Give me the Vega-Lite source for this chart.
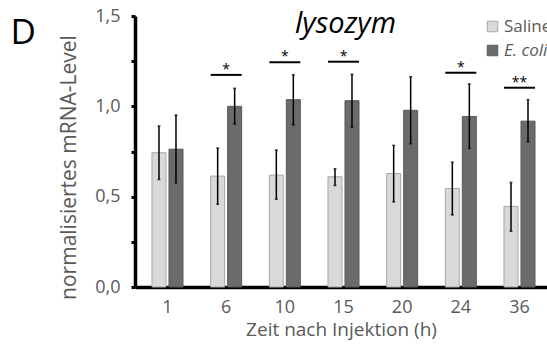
{
  "$schema": "https://vega.github.io/schema/vega-lite/v6.json",
  "autosize": {"type": "none"},
  "padding": {"left": 135, "top": 16, "right": 0, "bottom": 64},
  "width": 412,
  "height": 271,
  "title": {"text": "D", "orient": "left", "anchor": "end", "frame": "group", "angle": 0, "align": "left", "baseline": "top", "offset": 22, "fontSize": 35, "fontWeight": "normal", "font": "Open Sans", "color": "black"},
  "config": {"view": {"stroke": null}, "font": "Open Sans"},
  "datasets": {
    "bars": [
      {"time": "1", "group": "Saline", "mean": 0.743, "lo": 0.595, "hi": 0.891},
      {"time": "1", "group": "E. coli", "mean": 0.763, "lo": 0.576, "hi": 0.952},
      {"time": "6", "group": "Saline", "mean": 0.614, "lo": 0.458, "hi": 0.769},
      {"time": "6", "group": "E. coli", "mean": 1.0, "lo": 0.902, "hi": 1.1},
      {"time": "10", "group": "Saline", "mean": 0.619, "lo": 0.486, "hi": 0.758},
      {"time": "10", "group": "E. coli", "mean": 1.037, "lo": 0.898, "hi": 1.175},
      {"time": "15", "group": "Saline", "mean": 0.61, "lo": 0.562, "hi": 0.654},
      {"time": "15", "group": "E. coli", "mean": 1.031, "lo": 0.884, "hi": 1.177},
      {"time": "20", "group": "Saline", "mean": 0.628, "lo": 0.471, "hi": 0.784},
      {"time": "20", "group": "E. coli", "mean": 0.978, "lo": 0.793, "hi": 1.164},
      {"time": "24", "group": "Saline", "mean": 0.545, "lo": 0.399, "hi": 0.691},
      {"time": "24", "group": "E. coli", "mean": 0.944, "lo": 0.767, "hi": 1.124},
      {"time": "36", "group": "Saline", "mean": 0.446, "lo": 0.309, "hi": 0.579},
      {"time": "36", "group": "E. coli", "mean": 0.918, "lo": 0.804, "hi": 1.037}
    ],
    "sig": [
      {"time": "6", "line": 1.174, "label": "*"},
      {"time": "10", "line": 1.244, "label": "*"},
      {"time": "15", "line": 1.247, "label": "*"},
      {"time": "24", "line": 1.186, "label": "*"},
      {"time": "36", "line": 1.103, "label": "**"}
    ],
    "head": [{"label": "lysozym", "time": "15", "y": 1.406}]
  },
  "encoding": {
    "x": {
      "field": "time", "type": "ordinal", "sort": ["1", "6", "10", "15", "20", "24", "36"],
      "scale": {"paddingInner": 0.4716, "paddingOuter": 0.247, "align": 0.586},
      "axis": {"title": "Zeit nach Injektion (h)", "domainColor": "black", "domainWidth": 3.5, "ticks": false, "labelAngle": 0, "labelFontSize": 18, "labelColor": "#595959", "labelPadding": 11, "titleFontSize": 19, "titleFontWeight": "normal", "titleColor": "#595959", "titlePadding": 4}
    }
  },
  "layer": [
    {
      "data": {"name": "bars"},
      "mark": {"type": "bar", "strokeWidth": 1},
      "encoding": {
        "xOffset": {"field": "group", "type": "nominal", "sort": ["Saline", "E. coli"], "scale": {"paddingInner": 0.176, "paddingOuter": 0}},
        "y": {
          "field": "mean", "type": "quantitative",
          "scale": {"domain": [0, 1.5], "nice": false},
          "axis": {"title": "normalisiertes mRNA-Level", "values": [0, 0.25, 0.5, 0.75, 1, 1.25, 1.5], "labelExpr": "(datum.value * 2) % 1 == 0 ? replace(format(datum.value, '.1f'), '.', ',') : ''", "grid": false, "domainColor": "black", "domainWidth": 3.5, "tickColor": "black", "tickWidth": 3, "tickSize": 4, "labelFontSize": 18, "labelColor": "#595959", "labelPadding": 11, "titleFontSize": 21, "titleFontWeight": "normal", "titleColor": "#595959", "titleX": -60, "titleY": 151, "titleBaseline": "alphabetic", "titleAngle": -90, "titleAlign": "center"}
        },
        "color": {
          "field": "group", "type": "nominal", "sort": ["Saline", "E. coli"],
          "scale": {"domain": ["Saline", "E. coli"], "range": ["#d9d9d9", "#6b6b6b"]},
          "legend": {"title": null, "orient": "none", "legendX": 349, "legendY": 2, "padding": 0, "symbolType": "square", "symbolSize": 110, "symbolStrokeColor": "#a6a6a6", "symbolStrokeWidth": 1, "labelFontSize": 17, "labelColor": "#595959", "labelOffset": 3, "rowPadding": 6, "labelFontStyle": {"expr": "datum.label == 'E. coli' ? 'italic' : 'normal'"}}
        },
        "stroke": {
          "field": "group", "type": "nominal",
          "scale": {"domain": ["Saline", "E. coli"], "range": ["#a6a6a6", "#595959"]},
          "legend": null
        }
      }
    },
    {
      "data": {"name": "bars"},
      "mark": {"type": "rule", "color": "black", "strokeWidth": 1.5},
      "encoding": {
        "xOffset": {"field": "group", "type": "nominal", "sort": ["Saline", "E. coli"]},
        "y": {"field": "lo", "type": "quantitative"},
        "y2": {"field": "hi"}
      }
    },
    {
      "data": {"name": "bars"},
      "mark": {"type": "tick", "color": "black", "size": 3, "thickness": 1.5},
      "encoding": {
        "xOffset": {"field": "group", "type": "nominal", "sort": ["Saline", "E. coli"]},
        "y": {"field": "lo", "type": "quantitative"}
      }
    },
    {
      "data": {"name": "bars"},
      "mark": {"type": "tick", "color": "black", "size": 3, "thickness": 1.5},
      "encoding": {
        "xOffset": {"field": "group", "type": "nominal", "sort": ["Saline", "E. coli"]},
        "y": {"field": "hi", "type": "quantitative"}
      }
    },
    {
      "data": {"name": "sig"},
      "mark": {"type": "rule", "color": "black", "strokeWidth": 2},
      "encoding": {
        "x": {"field": "time", "type": "ordinal", "sort": ["1", "6", "10", "15", "20", "24", "36"], "bandPosition": 0},
        "x2": {"field": "time", "bandPosition": 1},
        "y": {"field": "line", "type": "quantitative"}
      }
    },
    {
      "data": {"name": "sig"},
      "mark": {"type": "text", "color": "black", "fontSize": 14, "baseline": "alphabetic", "dy": -1},
      "encoding": {
        "y": {"field": "line", "type": "quantitative"},
        "text": {"field": "label"}
      }
    },
    {
      "data": {"name": "head"},
      "mark": {"type": "text", "color": "black", "fontSize": 29, "fontStyle": "italic", "baseline": "alphabetic", "dx": 2},
      "encoding": {
        "y": {"field": "y", "type": "quantitative"},
        "text": {"field": "label"}
      }
    }
  ]
}
